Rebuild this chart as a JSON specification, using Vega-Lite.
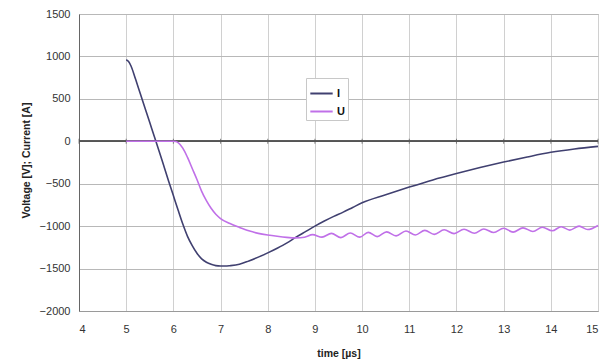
{
  "$schema": "https://vega.github.io/schema/vega-lite/v6.json",
  "width": 519,
  "height": 297,
  "autosize": "none",
  "padding": {"left": 79, "top": 14, "right": 16, "bottom": 52},
  "background": "white",
  "config": {
    "font": "Liberation Sans",
    "view": {"stroke": "#a8a8a8", "strokeWidth": 1}
  },
  "datasets": {
    "series": [
      {"t": 5.0, "v": 960, "s": "I"},
      {"t": 5.05, "v": 940, "s": "I"},
      {"t": 5.1, "v": 890, "s": "I"},
      {"t": 5.2, "v": 730, "s": "I"},
      {"t": 5.3, "v": 560, "s": "I"},
      {"t": 5.4, "v": 390, "s": "I"},
      {"t": 5.5, "v": 220, "s": "I"},
      {"t": 5.6, "v": 50, "s": "I"},
      {"t": 5.7, "v": -120, "s": "I"},
      {"t": 5.8, "v": -295, "s": "I"},
      {"t": 5.9, "v": -470, "s": "I"},
      {"t": 6.0, "v": -640, "s": "I"},
      {"t": 6.1, "v": -810, "s": "I"},
      {"t": 6.2, "v": -975, "s": "I"},
      {"t": 6.3, "v": -1120, "s": "I"},
      {"t": 6.4, "v": -1230, "s": "I"},
      {"t": 6.5, "v": -1320, "s": "I"},
      {"t": 6.6, "v": -1385, "s": "I"},
      {"t": 6.7, "v": -1425, "s": "I"},
      {"t": 6.8, "v": -1450, "s": "I"},
      {"t": 6.9, "v": -1465, "s": "I"},
      {"t": 7.0, "v": -1470, "s": "I"},
      {"t": 7.1, "v": -1470, "s": "I"},
      {"t": 7.2, "v": -1466, "s": "I"},
      {"t": 7.4, "v": -1450, "s": "I"},
      {"t": 7.6, "v": -1410, "s": "I"},
      {"t": 7.8, "v": -1365, "s": "I"},
      {"t": 8.0, "v": -1315, "s": "I"},
      {"t": 8.2, "v": -1260, "s": "I"},
      {"t": 8.4, "v": -1200, "s": "I"},
      {"t": 8.6, "v": -1130, "s": "I"},
      {"t": 8.8, "v": -1065, "s": "I"},
      {"t": 9.0, "v": -1000, "s": "I"},
      {"t": 9.2, "v": -940, "s": "I"},
      {"t": 9.4, "v": -885, "s": "I"},
      {"t": 9.6, "v": -835, "s": "I"},
      {"t": 9.8, "v": -780, "s": "I"},
      {"t": 10.0, "v": -725, "s": "I"},
      {"t": 10.5, "v": -630, "s": "I"},
      {"t": 11.0, "v": -540, "s": "I"},
      {"t": 11.5, "v": -455, "s": "I"},
      {"t": 12.0, "v": -380, "s": "I"},
      {"t": 12.5, "v": -310, "s": "I"},
      {"t": 13.0, "v": -245, "s": "I"},
      {"t": 13.5, "v": -185, "s": "I"},
      {"t": 14.0, "v": -130, "s": "I"},
      {"t": 14.5, "v": -90, "s": "I"},
      {"t": 15.0, "v": -60, "s": "I"},
      {"t": 5.0, "v": 0, "s": "U"},
      {"t": 5.5, "v": 0, "s": "U"},
      {"t": 6.0, "v": 0, "s": "U"},
      {"t": 6.05, "v": -2, "s": "U"},
      {"t": 6.1, "v": -15, "s": "U"},
      {"t": 6.2, "v": -80, "s": "U"},
      {"t": 6.3, "v": -190, "s": "U"},
      {"t": 6.4, "v": -320, "s": "U"},
      {"t": 6.5, "v": -450, "s": "U"},
      {"t": 6.6, "v": -590, "s": "U"},
      {"t": 6.7, "v": -700, "s": "U"},
      {"t": 6.8, "v": -790, "s": "U"},
      {"t": 6.9, "v": -860, "s": "U"},
      {"t": 7.0, "v": -910, "s": "U"},
      {"t": 7.2, "v": -970, "s": "U"},
      {"t": 7.4, "v": -1015, "s": "U"},
      {"t": 7.6, "v": -1055, "s": "U"},
      {"t": 7.8, "v": -1085, "s": "U"},
      {"t": 8.0, "v": -1105, "s": "U"},
      {"t": 8.2, "v": -1120, "s": "U"},
      {"t": 8.4, "v": -1132, "s": "U"},
      {"t": 8.6, "v": -1138, "s": "U"},
      {"t": 8.78, "v": -1130, "s": "U"},
      {"t": 8.95, "v": -1100, "s": "U"},
      {"t": 9.15, "v": -1130, "s": "U"},
      {"t": 9.35, "v": -1085, "s": "U"},
      {"t": 9.55, "v": -1135, "s": "U"},
      {"t": 9.75, "v": -1080, "s": "U"},
      {"t": 9.95, "v": -1130, "s": "U"},
      {"t": 10.13, "v": -1073, "s": "U"},
      {"t": 10.32, "v": -1123, "s": "U"},
      {"t": 10.52, "v": -1067, "s": "U"},
      {"t": 10.72, "v": -1115, "s": "U"},
      {"t": 10.93, "v": -1057, "s": "U"},
      {"t": 11.13, "v": -1105, "s": "U"},
      {"t": 11.33, "v": -1050, "s": "U"},
      {"t": 11.53, "v": -1097, "s": "U"},
      {"t": 11.74, "v": -1043, "s": "U"},
      {"t": 11.95, "v": -1088, "s": "U"},
      {"t": 12.16, "v": -1037, "s": "U"},
      {"t": 12.38, "v": -1083, "s": "U"},
      {"t": 12.58, "v": -1033, "s": "U"},
      {"t": 12.79, "v": -1075, "s": "U"},
      {"t": 13.0, "v": -1025, "s": "U"},
      {"t": 13.2, "v": -1070, "s": "U"},
      {"t": 13.41, "v": -1020, "s": "U"},
      {"t": 13.62, "v": -1063, "s": "U"},
      {"t": 13.82, "v": -1013, "s": "U"},
      {"t": 14.03, "v": -1055, "s": "U"},
      {"t": 14.22, "v": -1007, "s": "U"},
      {"t": 14.4, "v": -1047, "s": "U"},
      {"t": 14.6, "v": -1000, "s": "U"},
      {"t": 14.78, "v": -1040, "s": "U"},
      {"t": 15.0, "v": -992, "s": "U"}
    ],
    "ticks": [
      {"t": 4}, {"t": 5}, {"t": 6}, {"t": 7}, {"t": 8}, {"t": 9},
      {"t": 10}, {"t": 11}, {"t": 12}, {"t": 13}, {"t": 14}, {"t": 15}
    ]
  },
  "layer": [
    {
      "data": {"name": "ticks"},
      "mark": {"type": "rule", "color": "#555555", "strokeWidth": 1},
      "encoding": {"y": {"datum": 0, "type": "quantitative", "scale": {"domain": [-2000, 1500]}}}
    },
    {
      "data": {"name": "ticks"},
      "mark": {"type": "tick", "orient": "vertical", "color": "#555555", "size": 5, "thickness": 1},
      "encoding": {
        "x": {"field": "t", "type": "quantitative", "scale": {"domain": [4, 15], "nice": false}},
        "y": {"datum": 0, "type": "quantitative"}
      }
    },
    {
      "data": {"name": "series"},
      "mark": {"type": "line", "interpolate": "monotone", "strokeWidth": 1.6},
      "encoding": {
        "x": {
          "field": "t", "type": "quantitative",
          "scale": {"domain": [4, 15], "nice": false},
          "axis": {
            "title": "time [µs]",
            "values": [4, 5, 6, 7, 8, 9, 10, 11, 12, 13, 14, 15],
            "format": "d",
            "grid": true, "gridColor": "#d0d0d0", "gridWidth": 1,
            "domainColor": "#9a9a9a", "ticks": false,
            "labelPadding": 12, "labelFontSize": 11, "labelColor": "#333333",
            "titleFontSize": 10.5, "titleFontWeight": "bold", "titleColor": "#222222",
            "titleY": 42, "titleBaseline": "middle"
          }
        },
        "y": {
          "field": "v", "type": "quantitative",
          "scale": {"domain": [-2000, 1500], "nice": false},
          "axis": {
            "title": "Voltage [V]; Current [A]",
            "values": [-2000, -1500, -1000, -500, 0, 500, 1000, 1500],
            "format": "d",
            "grid": true, "gridColor": "#b8b8b8", "gridWidth": 1,
            "domainColor": "#666666", "ticks": false,
            "labelPadding": 9, "labelFontSize": 11, "labelColor": "#333333",
            "titleFontSize": 10.5, "titleFontWeight": "bold", "titleColor": "#222222",
            "titleX": -53, "titleY": 146, "titleAngle": -90, "titleAlign": "center", "titleBaseline": "middle"
          }
        },
        "color": {
          "field": "s", "type": "nominal",
          "scale": {"domain": ["I", "U"], "range": ["#404070", "#c070e8"]},
          "legend": {
            "title": null,
            "orient": "none",
            "legendX": 227,
            "legendY": 64,
            "direction": "vertical",
            "symbolType": "stroke",
            "symbolStrokeWidth": 2,
            "symbolSize": 500,
            "labelFontSize": 11,
            "labelFontWeight": "bold",
            "labelColor": "#111111",
            "labelOffset": 3,
            "rowPadding": -2,
            "padding": 3,
            "strokeColor": "#c8c8c8",
            "fillColor": "white"
          }
        }
      }
    }
  ]
}
